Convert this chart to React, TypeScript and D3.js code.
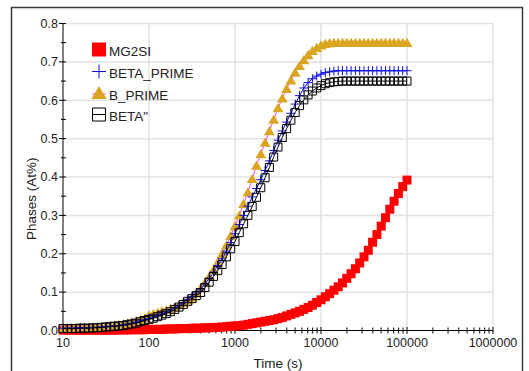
import React from 'react';
import * as d3 from 'd3';

// sample times (s), 20 per decade
const times = [
  10, 11.22, 12.59, 14.13, 15.85, 17.78, 19.95, 22.39, 25.12, 28.18, 31.62, 35.48, 39.81, 44.67, 50.12, 56.23, 63.1, 70.79, 79.43, 89.13,
  100, 112.2, 125.9, 141.3, 158.5, 177.8, 199.5, 223.9, 251.2, 281.8, 316.2, 354.8, 398.1, 446.7, 501.2, 562.3, 631, 707.9, 794.3, 891.3,
  1000, 1122, 1259, 1413, 1585, 1778, 1995, 2239, 2512, 2818, 3162, 3548, 3981, 4467, 5012, 5623, 6310, 7079, 7943, 8913,
  10000, 11220, 12589, 14125, 15849, 17783, 19953, 22387, 25119, 28184, 31623, 35481, 39811, 44668, 50119, 56234, 63096, 70795, 79433, 89125,
  100000,
];

const mg2si = [
  0.001, 0.001, 0.001, 0.001, 0.001, 0.001, 0.001, 0.001, 0.001, 0.001,
  0.001, 0.001, 0.001, 0.0015, 0.0015, 0.0015, 0.002, 0.002, 0.002, 0.002,
  0.003, 0.003, 0.003, 0.003, 0.004, 0.004, 0.004, 0.005, 0.005, 0.005,
  0.006, 0.006, 0.006, 0.007, 0.007, 0.008, 0.008, 0.009, 0.01, 0.011,
  0.012, 0.013, 0.014, 0.016, 0.018, 0.02, 0.022, 0.024, 0.026, 0.028,
  0.031, 0.034, 0.038, 0.042, 0.046, 0.05, 0.055, 0.06, 0.066, 0.073,
  0.08, 0.088, 0.096, 0.105, 0.114, 0.124, 0.136, 0.148, 0.161, 0.176,
  0.192, 0.209, 0.23, 0.25, 0.272, 0.294, 0.316, 0.337, 0.357, 0.375,
  0.392,
];

const betaPrime = [
  0.006, 0.006, 0.006, 0.006, 0.007, 0.007, 0.007, 0.008, 0.008, 0.009,
  0.01, 0.011, 0.012, 0.013, 0.015, 0.017, 0.019, 0.022, 0.025, 0.028,
  0.031, 0.035, 0.039, 0.043, 0.048, 0.053, 0.059, 0.066, 0.073, 0.081,
  0.089, 0.098, 0.108, 0.121, 0.136, 0.152, 0.169, 0.187, 0.207, 0.229,
  0.252, 0.276, 0.3, 0.324, 0.348, 0.37, 0.393, 0.417, 0.442, 0.469,
  0.496, 0.52, 0.543, 0.566, 0.59, 0.612, 0.632, 0.646, 0.656, 0.663,
  0.668, 0.672, 0.674, 0.676, 0.677, 0.677, 0.677, 0.677, 0.677, 0.677,
  0.677, 0.677, 0.677, 0.677, 0.677, 0.677, 0.677, 0.677, 0.677, 0.677,
  0.677,
];

const bPrime = [
  0.006, 0.006, 0.006, 0.007, 0.007, 0.007, 0.008, 0.008, 0.009, 0.01,
  0.011, 0.012, 0.013, 0.015, 0.017, 0.019, 0.022, 0.025, 0.028, 0.032,
  0.04, 0.043, 0.046, 0.05, 0.053, 0.057, 0.061, 0.066, 0.072, 0.079,
  0.086, 0.097, 0.11, 0.124, 0.14, 0.158, 0.178, 0.2, 0.222, 0.247,
  0.272, 0.3, 0.33, 0.36, 0.395, 0.43, 0.46, 0.49, 0.52, 0.55,
  0.58, 0.605, 0.63, 0.652, 0.672, 0.69, 0.705, 0.718, 0.729, 0.737,
  0.743, 0.747, 0.749, 0.75, 0.75, 0.75, 0.75, 0.75, 0.75, 0.75,
  0.75, 0.75, 0.75, 0.75, 0.75, 0.75, 0.75, 0.75, 0.75, 0.75,
  0.75,
];

const betaDP = [
  0.005, 0.005, 0.005, 0.005, 0.006, 0.006, 0.006, 0.007, 0.007, 0.008,
  0.009, 0.01, 0.011, 0.012, 0.013, 0.015, 0.017, 0.019, 0.023, 0.026,
  0.029, 0.032, 0.036, 0.04, 0.044, 0.049, 0.055, 0.061, 0.068, 0.076,
  0.083, 0.091, 0.099, 0.112, 0.126, 0.141, 0.156, 0.172, 0.192, 0.213,
  0.232, 0.255, 0.278, 0.3, 0.323, 0.347, 0.372, 0.398, 0.425, 0.452,
  0.478, 0.503, 0.526, 0.548, 0.568, 0.586, 0.601, 0.614, 0.624, 0.632,
  0.638, 0.643, 0.646, 0.648, 0.649, 0.65, 0.65, 0.65, 0.65, 0.65,
  0.65, 0.65, 0.65, 0.65, 0.65, 0.65, 0.65, 0.65, 0.65, 0.65,
  0.65,
];

const xTicks = [10, 100, 1000, 10000, 100000, 1000000];
const xTickLabels = ['10', '100', '1000', '10000', '100000', '1000000'];
const yTicks = [0, 0.1, 0.2, 0.3, 0.4, 0.5, 0.6, 0.7, 0.8];
const yTickLabels = ['0.0', '0.1', '0.2', '0.3', '0.4', '0.5', '0.6', '0.7', '0.8'];
const seriesNames = ['MG2SI', 'BETA_PRIME', 'B_PRIME', 'BETA"'];

const FONT = '"Liberation Sans", Arial, sans-serif';

const x = d3.scaleLog().domain([10, 1e6]).range([63, 493]);
const y = d3.scaleLinear().domain([0, 0.8]).range([330.5, 23.5]);

const minorX: number[] = [];
xTicks.slice(0, -1).forEach((d) => {
  for (let k = 2; k <= 9; k++) minorX.push(d * k);
});
const minorY = yTicks.slice(0, -1).map((d) => d + 0.05);

const lineGen = (vals: number[]) =>
  d3.line<number>().x((_, i) => x(times[i])).y((v) => y(v))(vals) || '';

const square = (s: number) => `M${-s / 2},${-s / 2}h${s}v${s}h${-s}Z`;
const plus = (s: number) => `M${-s / 2},0H${s / 2}M0,${-s / 2}V${s / 2}`;
const tri = (s: number) => `M0,${-s * 0.5}L${s * 0.55},${s * 0.42}L${-s * 0.55},${s * 0.42}Z`;

const App = () => {
  const legendRows = [49.5, 71.5, 93, 114.5];
  return (
    <svg
      width={529}
      height={371}
      style={{ position: 'absolute', left: 0, top: 0, background: '#fff' }}
      fontFamily={FONT}
    >
      <rect x={11.5} y={7.5} width={511} height={420} fill="#fff" stroke="#3a3a3a" strokeWidth={1.5} />

      {/* grid */}
      {yTicks.slice(1).map((t) => (
        <line key={'gy' + t} x1={63} x2={493} y1={y(t)} y2={y(t)} stroke="#e2e2e2" strokeWidth={1.5} />
      ))}
      {xTicks.slice(1).map((t) => (
        <line key={'gx' + t} x1={x(t)} x2={x(t)} y1={23.5} y2={330.5} stroke="#e2e2e2" strokeWidth={1.5} />
      ))}

      {/* axes */}
      <line x1={63} x2={63} y1={23.5} y2={330.5} stroke="#000" />
      <line x1={63} x2={493} y1={330.5} y2={330.5} stroke="#000" />
      {yTicks.map((t, i) => (
        <g key={'yt' + t}>
          <line x1={59} x2={66} y1={y(t)} y2={y(t)} stroke="#000" />
          <text x={58} y={y(t) + 4.3} textAnchor="end" fontSize={12.5} fill="#222">
            {yTickLabels[i]}
          </text>
        </g>
      ))}
      {minorY.map((t) => (
        <line key={'ym' + t} x1={61} x2={66} y1={y(t)} y2={y(t)} stroke="#000" />
      ))}
      {xTicks.map((t, i) => (
        <g key={'xt' + t}>
          <line x1={x(t)} x2={x(t)} y1={327} y2={334} stroke="#000" />
          <text x={x(t)} y={346.5} textAnchor="middle" fontSize={12.5} fill="#222">
            {xTickLabels[i]}
          </text>
        </g>
      ))}
      {minorX.map((t) => (
        <line key={'xm' + t} x1={x(t)} x2={x(t)} y1={327.5} y2={333.5} stroke="#000" />
      ))}

      <text x={278} y={368} textAnchor="middle" fontSize={13.5} fill="#222">
        Time (s)
      </text>
      <text transform="translate(36,240) rotate(-90)" fontSize={13.5} fill="#222">
        Phases (At%)
      </text>

      {/* series */}
      <path d={lineGen(mg2si)} fill="none" stroke="#ff0000" />
      {mg2si.map((v, i) => (
        <path key={'r' + i} d={square(9)} transform={`translate(${x(times[i])},${y(v)})`} fill="#ff0000" />
      ))}
      <path d={lineGen(bPrime)} fill="none" stroke="#ff40ff" />
      {bPrime.map((v, i) => (
        <path key={'g' + i} d={tri(10)} transform={`translate(${x(times[i])},${y(v)})`} fill="#daa520" />
      ))}
      <path d={lineGen(betaPrime)} fill="none" stroke="#1010e0" />
      {betaPrime.map((v, i) => (
        <path key={'b' + i} d={plus(9)} transform={`translate(${x(times[i])},${y(v)})`} stroke="#1010e0" />
      ))}
      <path d={lineGen(betaDP)} fill="none" stroke="#000" />
      {betaDP.map((v, i) => (
        <path key={'k' + i} d={square(8)} transform={`translate(${x(times[i])},${y(v)})`} fill="none" stroke="#000" />
      ))}

      {/* legend */}
      <g>
        <path d={square(14)} transform={`translate(99,${legendRows[0]})`} fill="#ff0000" />
        <line x1={92} x2={106} y1={legendRows[1]} y2={legendRows[1]} stroke="#1010e0" />
        <path d={plus(14)} transform={`translate(99,${legendRows[1]})`} stroke="#1010e0" />
        <line x1={92} x2={106} y1={legendRows[2] + 1} y2={legendRows[2] + 1} stroke="#ff40ff" />
        <path d={tri(14)} transform={`translate(99,${legendRows[2]})`} fill="#daa520" />
        <path d={square(13)} transform={`translate(99,${legendRows[3]})`} fill="none" stroke="#000" />
        <line x1={92} x2={106} y1={legendRows[3]} y2={legendRows[3]} stroke="#000" />
        {seriesNames.map((n, i) => (
          <text key={n} x={109} y={legendRows[i] + 6.5} fontSize={13.5} fill="#222">
            {n}
          </text>
        ))}
      </g>
    </svg>
  );
};

export default App;
